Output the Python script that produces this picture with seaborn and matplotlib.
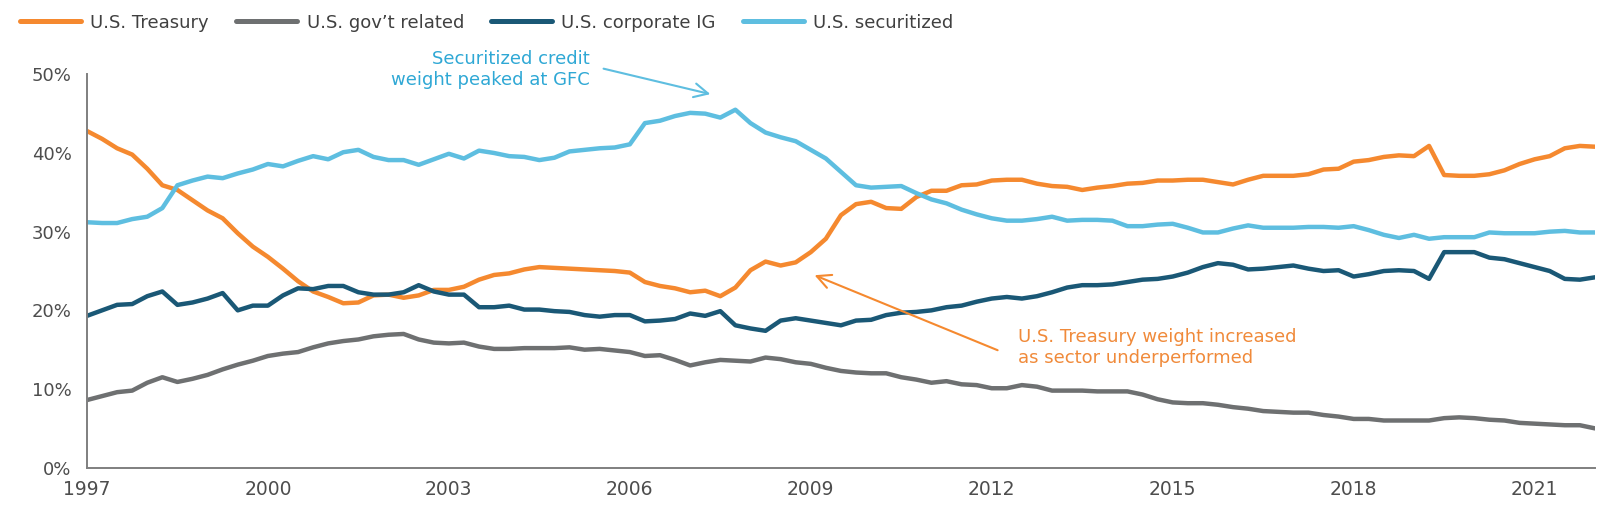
import numpy as np
import pandas as pd
import matplotlib
matplotlib.use("Agg")
import matplotlib.pyplot as plt
import seaborn as sns

# quarterly index weights (%), 1997Q1 .. 2022Q1
quarters = pd.period_range("1997Q1", "2022Q1", freq="Q")

treasury = [
    42.8, 41.8, 40.6, 39.8, 38.0, 35.9, 35.3, 34.0, 32.7, 31.7, 29.8, 28.1, 26.8, 25.3, 23.7,
    22.4, 21.7, 20.9, 21.0, 21.9, 22.0, 21.6, 21.9, 22.6, 22.6, 23.0, 23.9, 24.5, 24.7, 25.2, 25.5, 25.4,
    25.3, 25.2, 25.1, 25.0, 24.8, 23.6, 23.1, 22.8, 22.3, 22.5, 21.8, 22.9, 25.1, 26.2, 25.7, 26.1,
    27.4, 29.1, 32.1, 33.5, 33.8, 33.0, 32.9, 34.4, 35.2, 35.2, 35.9, 36.0, 36.5, 36.6, 36.6, 36.1,
    35.8, 35.7, 35.3, 35.6,
    35.8, 36.1, 36.2, 36.5, 36.5, 36.6, 36.6, 36.3, 36.0, 36.6, 37.1, 37.1, 37.1, 37.3, 37.9, 38.0,
    38.9, 39.1, 39.5, 39.7, 39.6, 40.9, 37.2, 37.1, 37.1, 37.3, 37.8, 38.6, 39.2, 39.6, 40.6, 40.9, 40.8,
]
gov_related = [
    8.6, 9.1, 9.6, 9.8, 10.8, 11.5, 10.9, 11.3, 11.8, 12.5, 13.1, 13.6, 14.2, 14.5, 14.7,
    15.3, 15.8, 16.1, 16.3, 16.7, 16.9, 17.0, 16.3, 15.9, 15.8, 15.9, 15.4, 15.1, 15.1, 15.2, 15.2, 15.2,
    15.3, 15.0, 15.1, 14.9, 14.7, 14.2, 14.3, 13.7, 13.0, 13.4, 13.7, 13.6, 13.5, 14.0, 13.8, 13.4,
    13.2, 12.7, 12.3, 12.1, 12.0, 12.0, 11.5, 11.2, 10.8, 11.0, 10.6, 10.5, 10.1, 10.1, 10.5, 10.3,
    9.8, 9.8, 9.8, 9.7,
    9.7, 9.7, 9.3, 8.7, 8.3, 8.2, 8.2, 8.0, 7.7, 7.5, 7.2, 7.1, 7.0, 7.0, 6.7, 6.5,
    6.2, 6.2, 6.0, 6.0, 6.0, 6.0, 6.3, 6.4, 6.3, 6.1, 6.0, 5.7, 5.6, 5.5, 5.4, 5.4, 5.0,
]
corporate_ig = [
    19.3, 20.0, 20.7, 20.8, 21.8, 22.4, 20.7, 21.0, 21.5, 22.2, 20.0, 20.6, 20.6, 21.9, 22.8,
    22.7, 23.1, 23.1, 22.3, 22.0, 22.0, 22.3, 23.2, 22.4, 22.0, 22.0, 20.4, 20.4, 20.6, 20.1, 20.1, 19.9,
    19.8, 19.4, 19.2, 19.4, 19.4, 18.6, 18.7, 18.9, 19.6, 19.3, 19.9, 18.1, 17.7, 17.4, 18.7, 19.0,
    18.7, 18.4, 18.1, 18.7, 18.8, 19.4, 19.7, 19.8, 20.0, 20.4, 20.6, 21.1, 21.5, 21.7, 21.5, 21.8,
    22.3, 22.9, 23.2, 23.2,
    23.3, 23.6, 23.9, 24.0, 24.3, 24.8, 25.5, 26.0, 25.8, 25.2, 25.3, 25.5, 25.7, 25.3, 25.0, 25.1,
    24.3, 24.6, 25.0, 25.1, 25.0, 24.0, 27.4, 27.4, 27.4, 26.7, 26.5, 26.0, 25.5, 25.0, 24.0, 23.9, 24.2,
]
securitized = [
    31.2, 31.1, 31.1, 31.6, 31.9, 33.0, 35.9, 36.5, 37.0, 36.8, 37.4, 37.9,
    38.6, 38.3, 39.0, 39.6, 39.2, 40.1, 40.4, 39.5, 39.1, 39.1, 38.5, 39.2, 39.9, 39.3, 40.3, 40.0,
    39.6, 39.5, 39.1, 39.4,
    40.2, 40.4, 40.6, 40.7, 41.1, 43.8, 44.1, 44.7, 45.1, 45.0, 44.5, 45.5, 43.8, 42.6, 42.0, 41.5,
    40.4, 39.3, 37.6, 35.9, 35.6, 35.7, 35.8, 34.9, 34.1, 33.6, 32.8, 32.2, 31.7, 31.4, 31.4, 31.6,
    31.9, 31.4, 31.5, 31.5,
    31.4, 30.7, 30.7, 30.9, 31.0, 30.5, 29.9, 29.9, 30.4, 30.8, 30.5, 30.5, 30.5, 30.6, 30.6, 30.5,
    30.7, 30.2, 29.6, 29.2, 29.6, 29.1, 29.3, 29.3, 29.3, 29.9, 29.8, 29.8, 29.8, 30.0, 30.1, 29.9, 29.9,
]

series_names = ["U.S. Treasury", "U.S. gov\u2019t related", "U.S. corporate IG", "U.S. securitized"]
colors = ["#F5892F", "#6E7071", "#1A5876", "#5EBEE0"]
year_ticks = list(range(1997, 2022, 3))

decimal_year = quarters.year + (quarters.quarter - 1) / 4
df = pd.DataFrame({"date": decimal_year, series_names[0]: treasury, series_names[1]: gov_related,
                   series_names[2]: corporate_ig, series_names[3]: securitized})
long_df = df.melt(id_vars="date", var_name="sector", value_name="weight")

sns.set_style("white")
plt.rcParams["font.family"] = ["DejaVu Sans"]

fig = plt.figure(figsize=(16.07, 5.08), dpi=100)
ax = fig.add_axes([0.0541, 0.0793, 0.9384, 0.7744])

sns.lineplot(data=long_df, x="date", y="weight", hue="sector", hue_order=series_names,
             palette=dict(zip(series_names, colors)), linewidth=3.2, ax=ax, legend=False)
for ln in ax.lines:
    ln.set_solid_capstyle("round")
    ln.set_solid_joinstyle("round")

ax.set_xlim(1997, 2022)
ax.set_ylim(0, 50)
ax.set_xticks(year_ticks)
ax.set_xticklabels([str(y) for y in year_ticks])
ax.set_yticks(range(0, 51, 10))
ax.set_yticklabels([f"{v}%" for v in range(0, 51, 10)])
ax.set_xlabel("")
ax.set_ylabel("")
sns.despine(ax=ax)
for s in ["left", "bottom"]:
    ax.spines[s].set_color("#7F7F7F")
    ax.spines[s].set_linewidth(1.4)
ax.tick_params(axis="y", length=7, width=1.2, color="#7F7F7F", labelsize=13, labelcolor="#4D4D4D", pad=4)
ax.tick_params(axis="x", length=0, labelsize=13.5, labelcolor="#4D4D4D", pad=9)

# annotations
ax.annotate("", xy=(2007.38, 47.4), xytext=(2005.52, 50.8), annotation_clip=False,
            arrowprops=dict(arrowstyle="->,head_length=1.0,head_width=0.5", color="#5EBEE0", lw=1.5))
ax.text(2005.34, 50.6, "Securitized credit\nweight peaked at GFC", ha="right", va="center",
        color="#2FA8D5", fontsize=13, linespacing=1.25, clip_on=False)

ax.annotate("", xy=(2009.02, 24.6), xytext=(2012.14, 14.8),
            arrowprops=dict(arrowstyle="->,head_length=1.0,head_width=0.5", color="#F5892F", lw=1.5))
ax.text(2012.44, 15.25, "U.S. Treasury weight increased\nas sector underperformed", ha="left", va="center",
        color="#F08A3A", fontsize=13, linespacing=1.25)

handles = [plt.Line2D([0], [0], color=c, lw=3.6, solid_capstyle="round") for c in colors]
fig.legend(handles, series_names, loc="upper left", bbox_to_anchor=(0.004, 1.0), ncol=4,
           frameon=False, fontsize=13, handlelength=3.4, handletextpad=0.5, columnspacing=1.5,
           borderpad=0.25, labelcolor="#404040")

fig.savefig("out.png", dpi=100)
